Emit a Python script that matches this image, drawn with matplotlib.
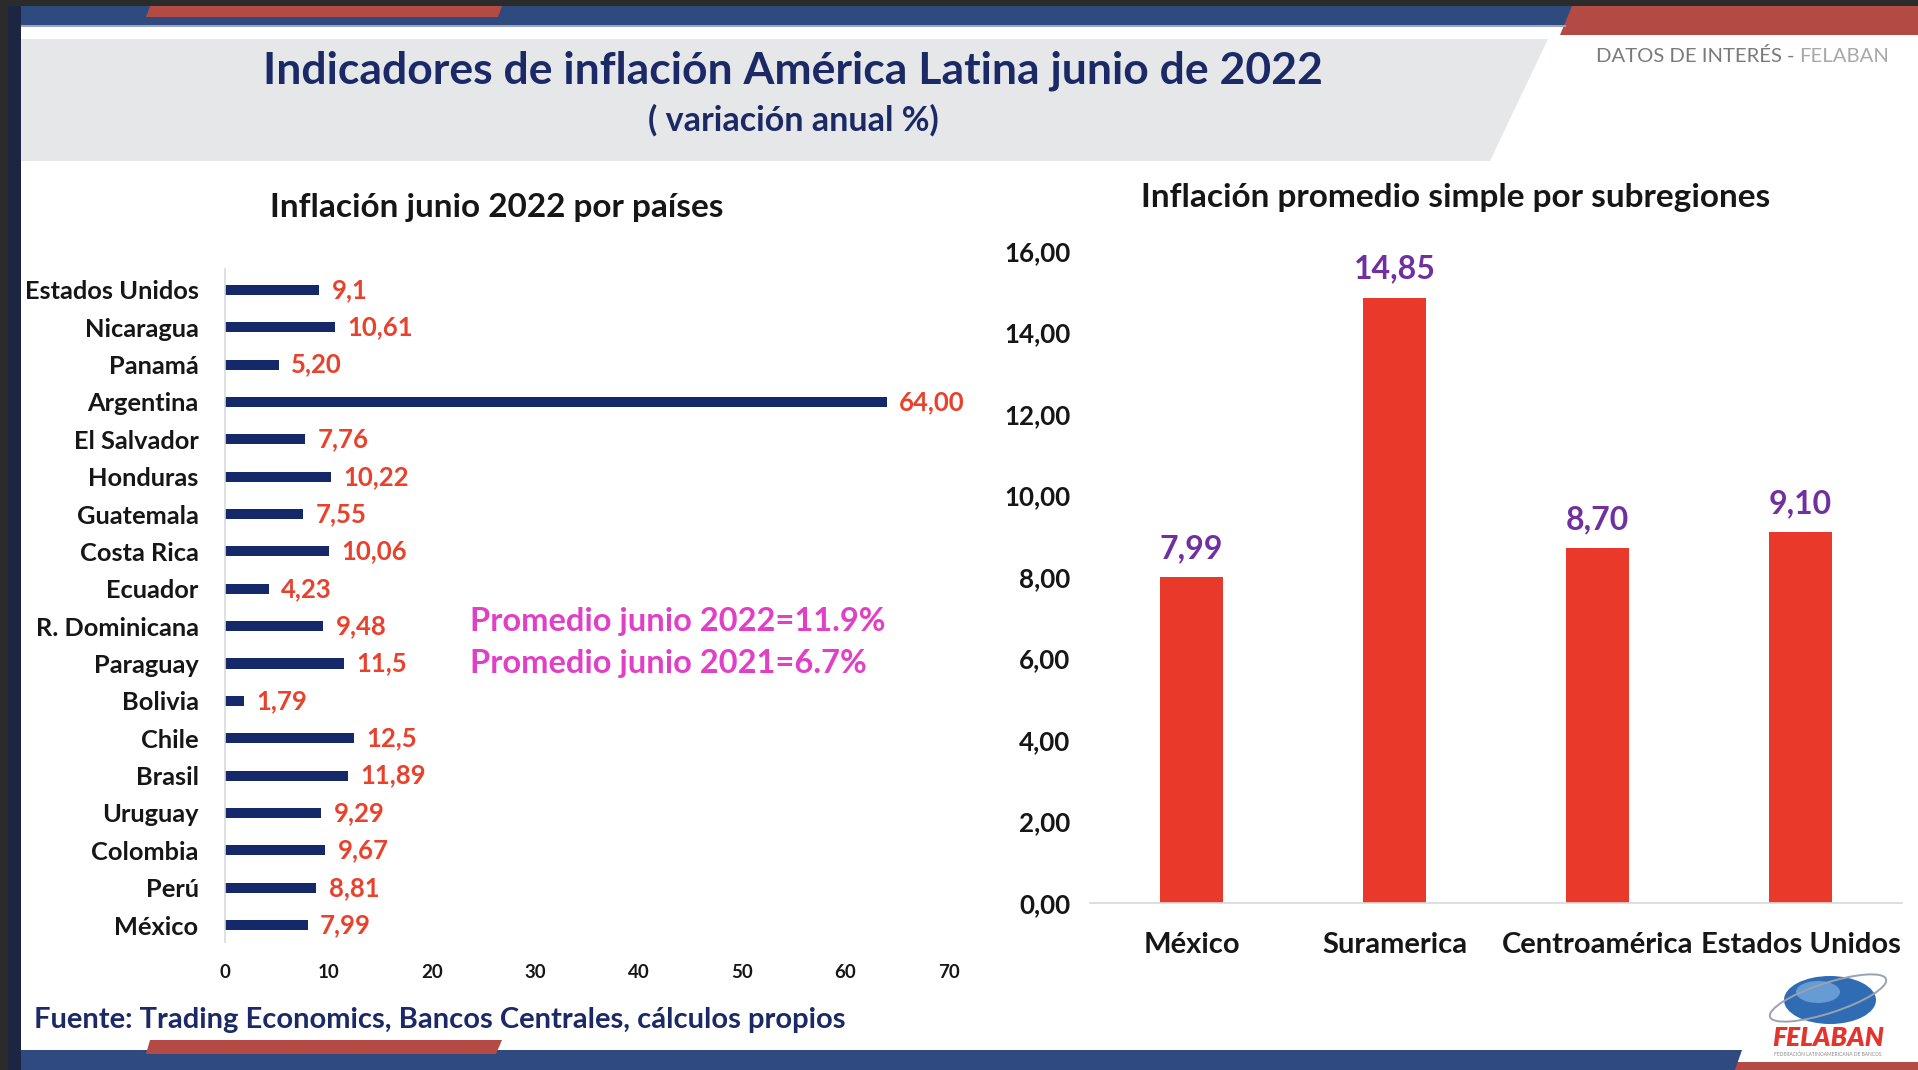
import matplotlib
matplotlib.use('Agg')
import matplotlib.pyplot as plt
from matplotlib.patches import Polygon, Rectangle, Ellipse

plt.rcParams['font.family'] = ['Lato', 'DejaVu Sans']

W, H = 1918, 1070

# inflation by country, June 2022 (top to bottom as listed)
countries = ['Estados Unidos', 'Nicaragua', 'Panamá', 'Argentina', 'El Salvador',
             'Honduras', 'Guatemala', 'Costa Rica', 'Ecuador', 'R. Dominicana',
             'Paraguay', 'Bolivia', 'Chile', 'Brasil', 'Uruguay', 'Colombia',
             'Perú', 'México']
inflation = [9.1, 10.61, 5.20, 64.00, 7.76, 10.22, 7.55, 10.06, 4.23, 9.48,
             11.5, 1.79, 12.5, 11.89, 9.29, 9.67, 8.81, 7.99]
decimals = [1, 2, 2, 2, 2, 2, 2, 2, 2, 2, 1, 2, 1, 2, 2, 2, 2, 2]
x_ticks = [0, 10, 20, 30, 40, 50, 60, 70]

# simple average by subregion
regions = ['México', 'Suramerica', 'Centroamérica', 'Estados Unidos']
region_avg = [7.99, 14.85, 8.70, 9.10]
y_ticks = [0, 2, 4, 6, 8, 10, 12, 14, 16]

notes = ['Promedio junio 2022=11.9%', 'Promedio junio 2021=6.7%']

NAVY = '#1b2a66'
BAR_NAVY = '#14286a'
RED = '#e8412c'
BAR_RED = '#e8392a'
PURPLE = '#7030a0'
MAGENTA = '#e03fc6'
BAND_BLUE = '#2e4a7e'
BAND_RED = '#b44a44'
INK = '#161616'


def comma(v, d):
    return f'{v:.{d}f}'.replace('.', ',')


fig = plt.figure(figsize=(W / 100, H / 100), dpi=100)
fig.patch.set_facecolor('white')

# page background drawn in pixel coordinates
bg = fig.add_axes([0, 0, 1, 1], zorder=0)
bg.set_xlim(0, W)
bg.set_ylim(H, 0)
bg.axis('off')

# dark frame on top and left
bg.add_patch(Rectangle((0, 0), W, 6, color='#2b2b2b', lw=0))
bg.add_patch(Rectangle((0, 0), 8, H, color='#2b2b2b', lw=0))
bg.add_patch(Rectangle((8, 6), 13, H, color='#1c2541', lw=0))

# top bands
bg.add_patch(Rectangle((21, 6), 1560, 19, color=BAND_BLUE, lw=0))
bg.add_patch(Polygon([(150, 6), (502, 6), (498, 17), (146, 17)], color=BAND_RED, lw=0))
bg.add_patch(Polygon([(1572, 6), (W, 6), (W, 35), (1560, 35)], color=BAND_RED, lw=0))
bg.add_patch(Rectangle((21, 25), 1545, 1.5, color='#9aa6c0', lw=0))

# grey header block with slanted right edge
bg.add_patch(Polygon([(21, 39), (1548, 39), (1490, 161), (21, 161)],
                     color='#e6e7e9', lw=0))

bg.text(793, 71, 'Indicadores de inflación América Latina junio de 2022',
        ha='center', va='center', fontsize=32, fontweight='bold', color=NAVY)
bg.text(793, 120, '( variación anual %)', ha='center', va='center',
        fontsize=24.5, fontweight='bold', color=NAVY)

t_fel = bg.text(1889, 56, 'FELABAN', ha='right', va='center', fontsize=14.6,
                color='#a8a8a8')
fig.canvas.draw()
r = fig.canvas.get_renderer()
fel_w = t_fel.get_window_extent(r).width
bg.text(1889 - fel_w, 56, 'DATOS DE INTERÉS - ', ha='right', va='center',
        fontsize=14.6, color='#7a7a7a')

# bottom bands
bg.add_patch(Polygon([(1700, 1062), (W, 1062), (W, H), (1700, H)], color=BAND_RED, lw=0))
bg.add_patch(Polygon([(21, 1050), (1742, 1050), (1735, H), (21, H)], color=BAND_BLUE, lw=0))
bg.add_patch(Polygon([(150, 1040), (502, 1040), (496, 1054), (146, 1054)],
                     color=BAND_RED, lw=0, zorder=3))

bg.text(34, 1020, 'Fuente: Trading Economics, Bancos Centrales, cálculos propios',
        ha='left', va='center', fontsize=21, fontweight='bold', color=NAVY)

# logo
bg.add_patch(Ellipse((1830, 1000), 92, 48, color='#2f6cb3', lw=0))
bg.add_patch(Ellipse((1818, 992), 44, 22, color='#74a8dc', lw=0, alpha=0.8))
bg.add_patch(Ellipse((1828, 998), 122, 30, angle=-18, fill=False,
                     ec='#9aa3ad', lw=1.4))
bg.text(1828, 1038, 'FELABAN', ha='center', va='center', fontsize=19,
        fontweight='heavy', style='italic', color='#e2352e')
bg.text(1828, 1054, 'FEDERACIÓN LATINOAMERICANA DE BANCOS', ha='center',
        va='center', fontsize=3.5, color='#888888')

# left chart: horizontal bars by country
axL = fig.add_axes([225 / W, 1 - 942 / H, (949 - 225) / W, (942 - 269) / H],
                   zorder=2)
axL.patch.set_alpha(0)
ypos = list(range(len(countries) - 1, -1, -1))
axL.barh(ypos, inflation, height=0.27, color=BAR_NAVY)
for y, v, d in zip(ypos, inflation, decimals):
    axL.text(v + 1.2, y, comma(v, d), ha='left', va='center', fontsize=18.5,
             fontweight='bold', color=RED)
axL.set_xlim(0, 70)
axL.set_ylim(-0.455, len(countries) - 0.44)
axL.set_yticks(ypos)
axL.set_yticklabels(countries, fontsize=18.3, fontweight='bold', color=INK)
axL.set_xticks(x_ticks)
axL.set_xticklabels([str(t) for t in x_ticks], fontsize=13.5, fontweight='bold',
                    color=INK)
axL.tick_params(axis='y', length=0, pad=19)
axL.tick_params(axis='x', length=0, pad=16)
for s in ['top', 'right', 'bottom']:
    axL.spines[s].set_visible(False)
axL.spines['left'].set_color('#d9d9d9')
axL.spines['left'].set_linewidth(1.2)

bg.text(497, 207, 'Inflación junio 2022 por países', ha='center', va='center',
        fontsize=24, fontweight='bold', color=INK)
for i, note in enumerate(notes):
    bg.text(470, 621 + i * 43, note, ha='left', va='center', fontsize=23.5,
            fontweight='bold', color=MAGENTA)

# right chart: subregion averages
axR = fig.add_axes([1090 / W, 1 - 903 / H, (1902 - 1090) / W, (903 - 251) / H],
                   zorder=2)
axR.patch.set_alpha(0)
xpos = list(range(len(regions)))
axR.bar(xpos, region_avg, width=0.315, color=BAR_RED)
for x, v in zip(xpos, region_avg):
    axR.text(x, v + 0.35, comma(v, 2), ha='center', va='bottom', fontsize=23,
             fontweight='bold', color=PURPLE)
axR.set_xlim(-0.5, len(regions) - 0.5)
axR.set_ylim(0, 16)
axR.set_yticks(y_ticks)
axR.set_yticklabels([comma(t, 2) for t in y_ticks], fontsize=18.7,
                    fontweight='bold', color=INK)
axR.set_xticks(xpos)
axR.set_xticklabels(regions, fontsize=21, fontweight='bold', color=INK)
axR.tick_params(axis='y', length=0, pad=14)
axR.tick_params(axis='x', length=0, pad=21)
for s in ['top', 'right', 'left']:
    axR.spines[s].set_visible(False)
axR.spines['bottom'].set_color('#d9d9d9')
axR.spines['bottom'].set_linewidth(1.2)

bg.text(1456, 197, 'Inflación promedio simple por subregiones', ha='center',
        va='center', fontsize=24, fontweight='bold', color=INK)

fig.savefig('out.png', dpi=100)
